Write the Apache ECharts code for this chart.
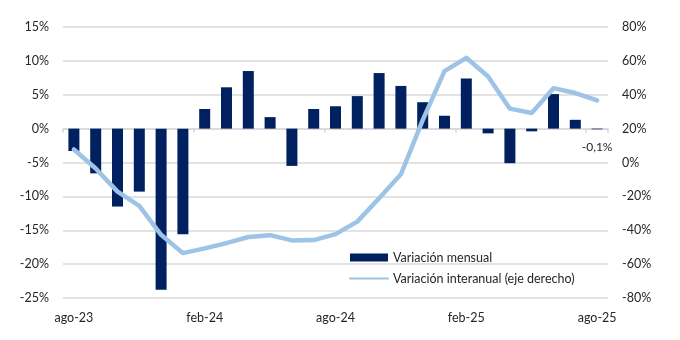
<!DOCTYPE html>
<html><head><meta charset="utf-8">
<script src="https://cdn.jsdelivr.net/npm/echarts@6/dist/echarts.min.js"></script>
<style>html,body{margin:0;padding:0;background:#fff}#c{width:680px;height:340px}</style>
</head><body><div id="c"></div>
<script>
var categories = ['ago-23','sep-23','oct-23','nov-23','dic-23','ene-24','feb-24','mar-24','abr-24','may-24','jun-24','jul-24','ago-24','sep-24','oct-24','nov-24','dic-24','ene-25','feb-25','mar-25','abr-25','may-25','jun-25','jul-25','ago-25'];
var mensual = [-3.3,-6.6,-11.5,-9.3,-23.8,-15.6,2.9,6.1,8.5,1.7,-5.5,2.9,3.3,4.8,8.2,6.3,3.9,1.9,7.4,-0.7,-5.1,-0.4,5.1,1.3,-0.1];
var interanual = [7.7,-3.5,-17.2,-25.6,-42.7,-53.5,-50.7,-47.6,-44.0,-42.9,-46.0,-45.8,-42.3,-34.9,-21.1,-7.0,25.0,53.9,61.8,50.8,31.8,29.2,43.9,41.0,36.7];
var leftTicks = {min:-25, max:15, interval:5};
var rightTicks = {min:-80, max:80, interval:20};

var font = 'Lato';
var txt = '#262626';
var chart = echarts.init(document.getElementById('c'), null, {renderer:'canvas'});
var barData = mensual.map(function(v,i){
  if (i === mensual.length-1) {
    return {value:v, label:{show:true, position:'bottom', distance:12, color:txt, fontFamily:font, fontSize:12,
      formatter:function(p){return p.value.toFixed(1).replace('.',',')+'%';}}};
  }
  return v;
});
chart.setOption({
  animation:false,
  grid:{left:63, right:72, top:27, bottom:42},
  legend:{orient:'vertical', left:344, top:246, itemWidth:38, itemHeight:8, itemGap:8,
    textStyle:{fontFamily:font, fontSize:12.5, color:txt},
    data:[{name:'Variación mensual', icon:'rect'},
          {name:'Variación interanual (eje derecho)', itemStyle:{opacity:0}}]},
  xAxis:[
    {type:'category', data:categories, boundaryGap:true, position:'bottom', axisLine:{show:false, onZero:false},
     axisTick:{show:false}, axisLabel:{interval:5, color:txt, fontFamily:font, fontSize:12.5, margin:13}},
    {type:'category', data:categories, boundaryGap:true, position:'bottom',
     axisLine:{show:true, onZero:true, lineStyle:{color:'#d9d9d9', width:1.5}},
     axisTick:{show:true, interval:5, length:4, lineStyle:{color:'#d9d9d9', width:1.5}}, axisLabel:{show:false}}
  ],
  yAxis:[
    {type:'value', min:leftTicks.min, max:leftTicks.max, interval:leftTicks.interval,
     axisLabel:{formatter:'{value}%', color:txt, fontFamily:font, fontSize:12.5, margin:14},
     axisLine:{show:false}, axisTick:{show:false},
     splitLine:{lineStyle:{color:'#d9d9d9', width:1.5}}},
    {type:'value', min:rightTicks.min, max:rightTicks.max, interval:rightTicks.interval, position:'right',
     axisLabel:{formatter:'{value}%', color:txt, fontFamily:font, fontSize:12.5, margin:14},
     axisLine:{show:false}, axisTick:{show:false}, splitLine:{show:false}}
  ],
  series:[
    {name:'Variación mensual', type:'bar', data:barData, barWidth:11, xAxisIndex:0, yAxisIndex:0,
     itemStyle:{color:'#002060'}},
    {name:'Variación interanual (eje derecho)', type:'line', data:interanual, xAxisIndex:0, yAxisIndex:1,
     symbol:'none', lineStyle:{color:'#9dc3e6', width:4.5, join:'round', cap:'round'}, itemStyle:{color:'#9dc3e6'}}
  ]
});
</script></body></html>
